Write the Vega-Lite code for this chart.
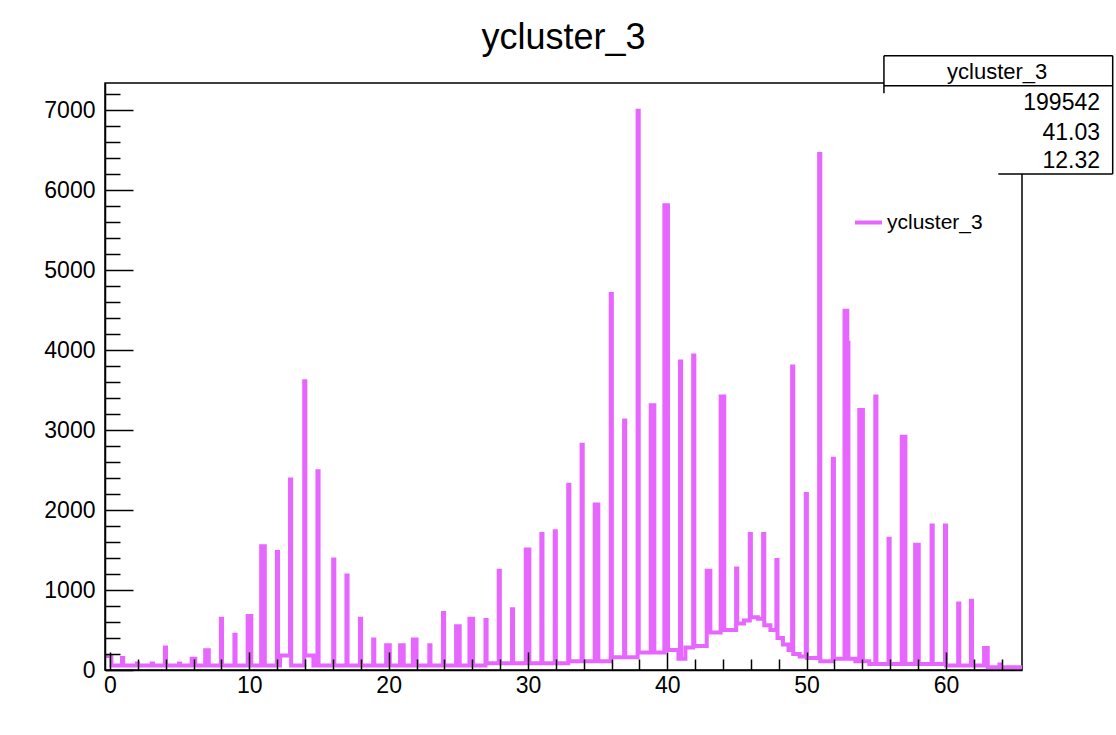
{
  "$schema": "https://vega.github.io/schema/vega-lite/v6.json",
  "width": 917,
  "height": 587,
  "autosize": {"type": "none"},
  "padding": {"left": 105, "top": 83, "right": 94, "bottom": 65},
  "background": "white",
  "config": {"font": "Liberation Sans", "view": {"stroke": "black", "strokeWidth": 1.5}},
  "title": {"text": "ycluster_3", "fontSize": 36, "fontWeight": "normal", "font": "Liberation Sans", "color": "black", "anchor": "middle", "frame": "group", "baseline": "alphabetic", "offset": -30},
  "datasets": {
    "hist": [
      {"x": -0.36, "n": 175}, {"x": 0.1, "n": 55}, {"x": 0.86, "n": 150}, {"x": 0.94, "n": 55},
      {"x": 1.93, "n": 80}, {"x": 2.01, "n": 55}, {"x": 3.0, "n": 80}, {"x": 3.08, "n": 55},
      {"x": 3.94, "n": 280}, {"x": 4.02, "n": 55}, {"x": 4.95, "n": 80}, {"x": 5.03, "n": 55},
      {"x": 5.86, "n": 142}, {"x": 6.12, "n": 55}, {"x": 6.83, "n": 246}, {"x": 7.09, "n": 55},
      {"x": 7.96, "n": 642}, {"x": 8.04, "n": 55}, {"x": 8.93, "n": 442}, {"x": 9.01, "n": 55},
      {"x": 9.88, "n": 675}, {"x": 10.14, "n": 55}, {"x": 10.85, "n": 1546}, {"x": 11.11, "n": 55},
      {"x": 11.98, "n": 1475}, {"x": 12.06, "n": 55}, {"x": 12.2, "n": 180}, {"x": 12.92, "n": 2380},
      {"x": 13.0, "n": 55}, {"x": 13.94, "n": 3610}, {"x": 14.02, "n": 180}, {"x": 14.6, "n": 55},
      {"x": 14.89, "n": 2483}, {"x": 14.97, "n": 55}, {"x": 16.02, "n": 1380}, {"x": 16.1, "n": 55},
      {"x": 16.97, "n": 1180}, {"x": 17.05, "n": 55}, {"x": 17.94, "n": 642}, {"x": 18.02, "n": 55},
      {"x": 18.89, "n": 380}, {"x": 18.97, "n": 55}, {"x": 19.82, "n": 308}, {"x": 20.08, "n": 55},
      {"x": 20.82, "n": 308}, {"x": 21.08, "n": 55}, {"x": 21.74, "n": 380}, {"x": 22.0, "n": 55},
      {"x": 22.92, "n": 308}, {"x": 23.0, "n": 55}, {"x": 23.9, "n": 712}, {"x": 23.98, "n": 55},
      {"x": 24.84, "n": 546}, {"x": 25.1, "n": 55}, {"x": 25.8, "n": 642}, {"x": 26.06, "n": 55},
      {"x": 26.95, "n": 625}, {"x": 27.03, "n": 85}, {"x": 27.9, "n": 1240}, {"x": 27.98, "n": 85},
      {"x": 28.85, "n": 760}, {"x": 28.93, "n": 85}, {"x": 29.84, "n": 1505}, {"x": 30.1, "n": 85},
      {"x": 30.96, "n": 1700}, {"x": 31.04, "n": 85}, {"x": 31.92, "n": 1735}, {"x": 32.0, "n": 85},
      {"x": 32.89, "n": 2315}, {"x": 32.97, "n": 110}, {"x": 33.85, "n": 2815}, {"x": 33.93, "n": 110},
      {"x": 34.79, "n": 2070}, {"x": 35.05, "n": 110}, {"x": 35.94, "n": 4700}, {"x": 36.02, "n": 160},
      {"x": 36.9, "n": 3120}, {"x": 36.98, "n": 160}, {"x": 37.87, "n": 6990}, {"x": 37.95, "n": 220},
      {"x": 38.81, "n": 3310}, {"x": 39.07, "n": 220}, {"x": 39.79, "n": 5810}, {"x": 40.05, "n": 250},
      {"x": 40.8, "n": 140}, {"x": 40.91, "n": 3855}, {"x": 40.99, "n": 140}, {"x": 41.3, "n": 280},
      {"x": 41.86, "n": 3930}, {"x": 41.94, "n": 300}, {"x": 42.83, "n": 1240}, {"x": 43.09, "n": 470},
      {"x": 43.83, "n": 3420}, {"x": 44.09, "n": 500}, {"x": 44.94, "n": 1270}, {"x": 45.02, "n": 580},
      {"x": 45.5, "n": 620}, {"x": 45.92, "n": 1700}, {"x": 46.0, "n": 660}, {"x": 46.5, "n": 640},
      {"x": 46.88, "n": 1700}, {"x": 46.96, "n": 560}, {"x": 47.4, "n": 500}, {"x": 47.83, "n": 1375},
      {"x": 47.91, "n": 400}, {"x": 48.3, "n": 320}, {"x": 48.7, "n": 250}, {"x": 48.96, "n": 3795},
      {"x": 49.04, "n": 200}, {"x": 49.5, "n": 170}, {"x": 49.94, "n": 2200}, {"x": 50.02, "n": 150},
      {"x": 50.9, "n": 6450}, {"x": 50.98, "n": 110}, {"x": 51.88, "n": 2640}, {"x": 51.96, "n": 140},
      {"x": 52.72, "n": 4490}, {"x": 52.92, "n": 4090}, {"x": 53.0, "n": 140}, {"x": 53.5, "n": 110},
      {"x": 53.78, "n": 3250}, {"x": 54.04, "n": 110}, {"x": 54.5, "n": 75}, {"x": 54.93, "n": 3420},
      {"x": 55.01, "n": 75}, {"x": 55.88, "n": 1640}, {"x": 55.96, "n": 75}, {"x": 56.83, "n": 2915},
      {"x": 57.09, "n": 75}, {"x": 57.79, "n": 1565}, {"x": 58.05, "n": 75}, {"x": 58.97, "n": 1805},
      {"x": 59.05, "n": 75}, {"x": 59.93, "n": 1805}, {"x": 60.01, "n": 55}, {"x": 60.88, "n": 830},
      {"x": 60.96, "n": 55}, {"x": 61.79, "n": 865}, {"x": 61.87, "n": 55}, {"x": 62.74, "n": 275},
      {"x": 63.0, "n": 35}, {"x": 63.84, "n": 70}, {"x": 63.92, "n": 35}, {"x": 65.46, "n": 35}
    ],
    "box": [{"x0": 55.55, "x1": 71.97, "y0": 6200, "y1": 7678.75}],
    "boxlines": [
      {"x0": 55.55, "x1": 71.97, "y0": 7678.75, "y1": 7678.75},
      {"x0": 55.55, "x1": 71.97, "y0": 7303.75, "y1": 7303.75},
      {"x0": 71.97, "x1": 71.97, "y0": 6200, "y1": 7678.75},
      {"x0": 63.76, "x1": 71.97, "y0": 6200, "y1": 6200},
      {"x0": 55.55, "x1": 55.55, "y0": 7208.75, "y1": 7678.75}
    ],
    "boxhead": [{"x": 63.68, "y": 7471, "t": "ycluster_3"}],
    "boxvals": [
      {"x": 71.06, "y": 7084, "t": "199542"},
      {"x": 71.06, "y": 6716, "t": "41.03"},
      {"x": 71.06, "y": 6366, "t": "12.32"}
    ]
  },
  "layer": [
    {
      "data": {"name": "hist"},
      "mark": {"type": "line", "interpolate": "step-after", "strokeWidth": 4, "clip": true, "strokeJoin": "miter", "strokeCap": "butt"},
      "encoding": {
        "x": {
          "field": "x", "type": "quantitative", "title": null,
          "scale": {"domain": [-0.36, 65.46], "nice": false, "zero": false},
          "axis": {
            "values": [0, 2, 4, 6, 8, 10, 12, 14, 16, 18, 20, 22, 24, 26, 28, 30, 32, 34, 36, 38, 40, 42, 44, 46, 48, 50, 52, 54, 56, 58, 60, 62, 64],
            "tickCount": 200,
            "format": "d",
            "labelExpr": "datum.value % 10 === 0 ? datum.label : ''",
            "tickSize": {"condition": {"test": "datum.value % 10 === 0", "value": -18}, "value": -11},
            "labelPadding": 22, "tickColor": "black", "tickWidth": 1.5,
            "domainColor": "black", "domainWidth": 1.5, "labelFontSize": 23, "labelColor": "black",
            "labelFont": "Liberation Sans", "grid": false, "title": null, "zindex": 1,
            "labelFlush": false, "labelOverlap": false
          }
        },
        "y": {
          "field": "n", "type": "quantitative", "title": null,
          "scale": {"domain": [0, 7337.5], "nice": false},
          "axis": {
            "values": [0, 200, 400, 600, 800, 1000, 1200, 1400, 1600, 1800, 2000, 2200, 2400, 2600, 2800, 3000, 3200, 3400, 3600, 3800, 4000, 4200, 4400, 4600, 4800, 5000, 5200, 5400, 5600, 5800, 6000, 6200, 6400, 6600, 6800, 7000, 7200],
            "tickCount": 200,
            "labelExpr": "datum.value % 1000 === 0 ? datum.label : ''",
            "format": "d",
            "tickSize": {"condition": {"test": "datum.value % 1000 === 0", "value": -28}, "value": -15},
            "labelPadding": 38, "tickColor": "black", "tickWidth": 1.5,
            "domainColor": "black", "domainWidth": 1.5, "labelFontSize": 23, "labelColor": "black",
            "labelFont": "Liberation Sans", "grid": false, "title": null, "zindex": 1,
            "labelFlush": false, "labelOverlap": false
          }
        },
        "color": {
          "datum": "ycluster_3", "type": "nominal",
          "scale": {"range": ["#e766ff"]},
          "legend": {
            "orient": "none", "legendX": 748, "legendY": 124, "title": null, "padding": 0,
            "symbolType": "stroke", "symbolStrokeWidth": 4, "symbolSize": 729,
            "labelFontSize": 21, "labelFont": "Liberation Sans", "labelColor": "black", "labelOffset": 3
          }
        }
      }
    },
    {
      "data": {"name": "box"},
      "mark": {"type": "rect", "fill": "white", "clip": false},
      "encoding": {
        "x": {"field": "x0", "type": "quantitative", "title": null},
        "x2": {"field": "x1"},
        "y": {"field": "y0", "type": "quantitative", "title": null},
        "y2": {"field": "y1"}
      }
    },
    {
      "data": {"name": "boxlines"},
      "mark": {"type": "rule", "color": "black", "strokeWidth": 1.5, "clip": false},
      "encoding": {
        "x": {"field": "x0", "type": "quantitative", "title": null},
        "x2": {"field": "x1"},
        "y": {"field": "y0", "type": "quantitative", "title": null},
        "y2": {"field": "y1"}
      }
    },
    {
      "data": {"name": "boxhead"},
      "mark": {"type": "text", "align": "center", "baseline": "middle", "fontSize": 22, "font": "Liberation Sans", "color": "black", "clip": false},
      "encoding": {
        "x": {"field": "x", "type": "quantitative", "title": null},
        "y": {"field": "y", "type": "quantitative", "title": null},
        "text": {"field": "t"}
      }
    },
    {
      "data": {"name": "boxvals"},
      "mark": {"type": "text", "align": "right", "baseline": "middle", "fontSize": 23, "font": "Liberation Sans", "color": "black", "clip": false},
      "encoding": {
        "x": {"field": "x", "type": "quantitative", "title": null},
        "y": {"field": "y", "type": "quantitative", "title": null},
        "text": {"field": "t"}
      }
    }
  ]
}
